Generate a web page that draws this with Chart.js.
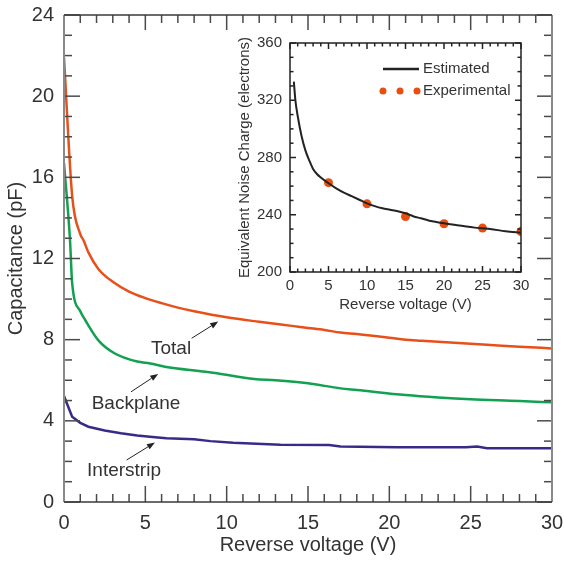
<!DOCTYPE html>
<html>
<head>
<meta charset="utf-8">
<script src="https://cdn.jsdelivr.net/npm/chart.js@4/dist/chart.umd.min.js"></script>
<style>
  html, body { margin: 0; padding: 0; background: #fff; }
  #wrap { position: relative; width: 564px; height: 561px; }
  #main { position: absolute; left: 0; top: 0; }
  #inset { position: absolute; left: 230px; top: 28px; }
</style>
</head>
<body>
<div id="wrap">
  <canvas id="main" width="564" height="561"></canvas>
  <canvas id="inset" width="320" height="295"></canvas>
</div>
<script>
// ---------- Main chart data ----------
const voltsTotal = [0, 0.5, 1.0, 1.2, 1.5, 2.1, 3, 4, 5, 6, 7, 8, 10, 12, 14, 15, 16, 17, 18, 20, 21, 22, 24, 25, 26, 28, 30];
const capTotal   = [21.9, 15.1, 13.2, 12.9, 12.3, 11.5, 10.85, 10.37, 10.05, 9.8, 9.58, 9.4, 9.1, 8.88, 8.68, 8.58, 8.48, 8.35, 8.28, 8.1, 8.0, 7.95, 7.85, 7.8, 7.75, 7.65, 7.57];

const voltsBack = [0, 0.37, 0.5, 1.0, 1.3, 2.1, 3.1, 4.5, 5.3, 6.2, 8.7, 9.4, 11.7, 13, 15, 17, 18, 21, 23, 25, 28, 30];
const capBack   = [16.7, 12.9, 10.8, 9.4, 8.97, 7.98, 7.33, 6.92, 6.83, 6.67, 6.42, 6.34, 6.06, 6.0, 5.85, 5.6, 5.52, 5.27, 5.15, 5.06, 4.98, 4.91];

const voltsInter = [0, 0.5, 1.0, 1.5, 2.5, 3.5, 4.5, 5.6, 6.3, 8, 9, 10.4, 13.3, 16.3, 17, 20.5, 24.7, 25.4, 26, 30];
const capInter   = [5.22, 4.2, 3.9, 3.71, 3.52, 3.39, 3.28, 3.19, 3.14, 3.09, 3.0, 2.92, 2.82, 2.81, 2.74, 2.7, 2.7, 2.73, 2.65, 2.65];

const seriesNames = ['Total', 'Backplane', 'Interstrip'];
const xTickStep = 5;
const yTickStep = 4;

// ---------- Inset data ----------
const insetVoltsEst = [0.5, 0.7, 1.0, 1.5, 2, 2.5, 3, 3.5, 4, 5, 6, 7, 8, 9, 10, 11, 12, 13, 14, 15, 16, 17, 18, 19, 20, 22, 24, 25, 26, 28, 30];
const insetEncEst   = [333, 320, 309, 295, 285, 278, 272, 268.5, 266, 262, 258.5, 255.5, 253, 250.5, 248, 246, 244.5, 243.5, 242.5, 241, 239, 237.5, 236, 235, 234, 232.5, 231, 230.5, 230, 228.5, 227.5];
const insetVoltsExp = [5, 10, 15, 20, 25, 30];
const insetEncExp   = [262.4, 247.6, 238.7, 233.7, 230.7, 228.3];
const insetLegend = ['Estimated', 'Experimental'];

// Annotation labels (data coordinates)
const annotations = [
  { text: 'Total',      lx: 6.58, ly: 7.54, x1: 7.85, y1: 8.07, x2: 9.48, y2: 8.89 },
  { text: 'Backplane',  lx: 4.43, ly: 4.83, x1: 4.12, y1: 5.43, x2: 5.79, y2: 6.31 },
  { text: 'Interstrip', lx: 3.69, ly: 1.53, x1: 3.85, y1: 2.07, x2: 5.59, y2: 2.93 }
];

const FONT = "'Liberation Sans', Arial, sans-serif";
const TXT = '#333333';

function pts(xs, ys) { return xs.map((x, i) => ({ x: x, y: ys[i] })); }

function drawAxisTicks(ctx, scale, horizontal, from, to, minorStep, majorStep, posLine, dir, minorLen, majorLen) {
  const n = Math.round((to - from) / minorStep);
  for (let i = 0; i <= n; i++) {
    const v = from + i * minorStep;
    const isMajor = Math.abs(v / majorStep - Math.round(v / majorStep)) < 1e-6;
    const len = isMajor ? majorLen : minorLen;
    const p = scale.getPixelForValue(v);
    ctx.beginPath();
    if (horizontal) { ctx.moveTo(p, posLine); ctx.lineTo(p, posLine + dir * len); }
    else { ctx.moveTo(posLine, p); ctx.lineTo(posLine + dir * len, p); }
    ctx.stroke();
  }
}

function zeroPad(s) { s.paddingLeft = 0; s.paddingRight = 0; s.paddingTop = 0; s.paddingBottom = 0; }

const mainFrame = {
  id: 'mainFrame',
  afterDraw(chart) {
    const { ctx, chartArea: a, scales } = chart;
    ctx.save();
    ctx.strokeStyle = '#4a4a4a';
    ctx.lineWidth = 1.5;
    drawAxisTicks(ctx, scales.x, true, 0, 30, 1, 5, a.bottom, -1, 8, 16);
    drawAxisTicks(ctx, scales.x, true, 0, 30, 1, 5, a.top, 1, 8, 15);
    drawAxisTicks(ctx, scales.y, false, 0, 24, 1, 4, a.left, 1, 8, 16);
    drawAxisTicks(ctx, scales.y, false, 0, 24, 1, 4, a.right, -1, 8, 15);
    ctx.lineWidth = 2;
    ctx.strokeStyle = '#8a8a8a';
    ctx.beginPath(); ctx.moveTo(a.left, a.top); ctx.lineTo(a.left, a.bottom); ctx.stroke();
    ctx.beginPath(); ctx.moveTo(a.right, a.top); ctx.lineTo(a.right, a.bottom); ctx.stroke();
    ctx.strokeStyle = '#3a3a3a';
    ctx.lineWidth = 1.5;
    ctx.beginPath(); ctx.moveTo(a.left, a.top); ctx.lineTo(a.right, a.top); ctx.stroke();
    ctx.beginPath(); ctx.moveTo(a.left, a.bottom); ctx.lineTo(a.right, a.bottom); ctx.stroke();

    ctx.font = '19px ' + FONT;
    ctx.textAlign = 'center';
    ctx.textBaseline = 'middle';
    ctx.strokeStyle = '#222';
    ctx.lineWidth = 1;
    annotations.forEach(an => {
      ctx.fillStyle = TXT;
      ctx.fillText(an.text, scales.x.getPixelForValue(an.lx), scales.y.getPixelForValue(an.ly));
      const x1 = scales.x.getPixelForValue(an.x1), y1 = scales.y.getPixelForValue(an.y1);
      const x2 = scales.x.getPixelForValue(an.x2), y2 = scales.y.getPixelForValue(an.y2);
      const ang = Math.atan2(y2 - y1, x2 - x1);
      const hl = 8, hw = 3;
      const bx = x2 - hl * Math.cos(ang), by = y2 - hl * Math.sin(ang);
      ctx.beginPath(); ctx.moveTo(x1, y1); ctx.lineTo(bx, by); ctx.stroke();
      ctx.fillStyle = '#222';
      ctx.beginPath();
      ctx.moveTo(x2, y2);
      ctx.lineTo(bx + hw * Math.sin(ang), by - hw * Math.cos(ang));
      ctx.lineTo(bx - hw * Math.sin(ang), by + hw * Math.cos(ang));
      ctx.closePath(); ctx.fill();
    });
    ctx.restore();
  }
};

new Chart(document.getElementById('main'), {
  type: 'scatter',
  data: {
    datasets: [
      { label: seriesNames[0], data: pts(voltsTotal, capTotal), showLine: true, borderColor: '#e8501a', borderWidth: 2.5, pointRadius: 0, cubicInterpolationMode: 'monotone' },
      { label: seriesNames[1], data: pts(voltsBack, capBack), showLine: true, borderColor: '#12a150', borderWidth: 2.5, pointRadius: 0, cubicInterpolationMode: 'monotone' },
      { label: seriesNames[2], data: pts(voltsInter, capInter), showLine: true, borderColor: '#3a2a88', borderWidth: 2.5, pointRadius: 0 }
    ]
  },
  options: {
    responsive: false,
    animation: false,
    devicePixelRatio: 1,
    layout: { padding: { left: 0, right: 12, top: 15, bottom: 0 } },
    plugins: { legend: { display: false }, tooltip: { enabled: false } },
    scales: {
      x: {
        type: 'linear', min: 0, max: 30,
        grid: { display: false, drawTicks: false },
        border: { display: false },
        ticks: { stepSize: xTickStep, padding: 9, color: TXT, font: { family: FONT, size: 20 }, maxRotation: 0 },
        title: { display: true, text: 'Reverse voltage (V)', color: TXT, font: { family: FONT, size: 20 }, padding: { top: 0, bottom: 4 } },
        afterFit(s) { s.height = 59; zeroPad(s); }
      },
      y: {
        type: 'linear', min: 0, max: 24,
        grid: { display: false, drawTicks: false },
        border: { display: false },
        ticks: { stepSize: yTickStep, padding: 10, color: TXT, font: { family: FONT, size: 20 } },
        title: { display: true, text: 'Capacitance (pF)', color: TXT, font: { family: FONT, size: 20 }, padding: { top: 4, bottom: 0 } },
        afterFit(s) { s.width = 64; zeroPad(s); }
      }
    }
  },
  plugins: [mainFrame]
});

// ---------- Inset ----------
const insetFrame = {
  id: 'insetFrame',
  afterDraw(chart) {
    const { ctx, chartArea: a, scales } = chart;
    ctx.save();
    ctx.strokeStyle = '#222';
    ctx.lineWidth = 1.5;
    drawAxisTicks(ctx, scales.x, true, 0, 30, 1, 5, a.bottom, -1, 3.5, 6);
    drawAxisTicks(ctx, scales.x, true, 0, 30, 1, 5, a.top, 1, 3.5, 6);
    drawAxisTicks(ctx, scales.y, false, 200, 360, 10, 40, a.left, 1, 3.5, 6);
    drawAxisTicks(ctx, scales.y, false, 200, 360, 10, 40, a.right, -1, 3.5, 6);
    ctx.strokeRect(a.left, a.top, a.right - a.left, a.bottom - a.top);

    const lx = a.left + 93, ly1 = a.top + 26, ly2 = a.top + 48;
    ctx.strokeStyle = '#222';
    ctx.lineWidth = 2.5;
    ctx.beginPath(); ctx.moveTo(lx, ly1); ctx.lineTo(lx + 36, ly1); ctx.stroke();
    ctx.fillStyle = '#e84e0f';
    [0, 17, 34].forEach(dx => { ctx.beginPath(); ctx.arc(lx + dx, ly2, 3.5, 0, Math.PI * 2); ctx.fill(); });
    ctx.fillStyle = TXT;
    ctx.font = '15px ' + FONT;
    ctx.textAlign = 'left';
    ctx.textBaseline = 'middle';
    ctx.fillText(insetLegend[0], lx + 40, ly1);
    ctx.fillText(insetLegend[1], lx + 40, ly2);
    ctx.restore();
  }
};

new Chart(document.getElementById('inset'), {
  type: 'scatter',
  data: {
    datasets: [
      { label: insetLegend[0], data: pts(insetVoltsEst, insetEncEst), showLine: true, borderColor: '#222', borderWidth: 2, pointRadius: 0, cubicInterpolationMode: 'monotone' },
      { label: insetLegend[1], data: pts(insetVoltsExp, insetEncExp), showLine: false, backgroundColor: '#e84e0f', borderColor: '#e84e0f', pointRadius: 4.5, pointBorderWidth: 0 }
    ]
  },
  options: {
    responsive: false,
    animation: false,
    devicePixelRatio: 1,
    layout: { padding: { left: 0, right: 29, top: 15, bottom: 0 } },
    plugins: { legend: { display: false }, tooltip: { enabled: false } },
    scales: {
      x: {
        type: 'linear', min: 0, max: 30,
        grid: { display: false, drawTicks: false },
        border: { display: false },
        ticks: { stepSize: 5, padding: 5, color: TXT, font: { family: FONT, size: 15 }, maxRotation: 0 },
        title: { display: true, text: 'Reverse voltage (V)', color: TXT, font: { family: FONT, size: 15 }, padding: { top: 0, bottom: 9 } },
        afterFit(s) { s.height = 51; zeroPad(s); }
      },
      y: {
        type: 'linear', min: 200, max: 360,
        grid: { display: false, drawTicks: false },
        border: { display: false },
        ticks: { stepSize: 40, padding: 8, color: TXT, font: { family: FONT, size: 15 } },
        title: { display: true, text: 'Equivalent Noise Charge (electrons)', color: TXT, font: { family: FONT, size: 15 }, padding: { top: 6, bottom: 0 } },
        afterFit(s) { s.width = 60; zeroPad(s); }
      }
    }
  },
  plugins: [insetFrame]
});
</script>
</body>
</html>
